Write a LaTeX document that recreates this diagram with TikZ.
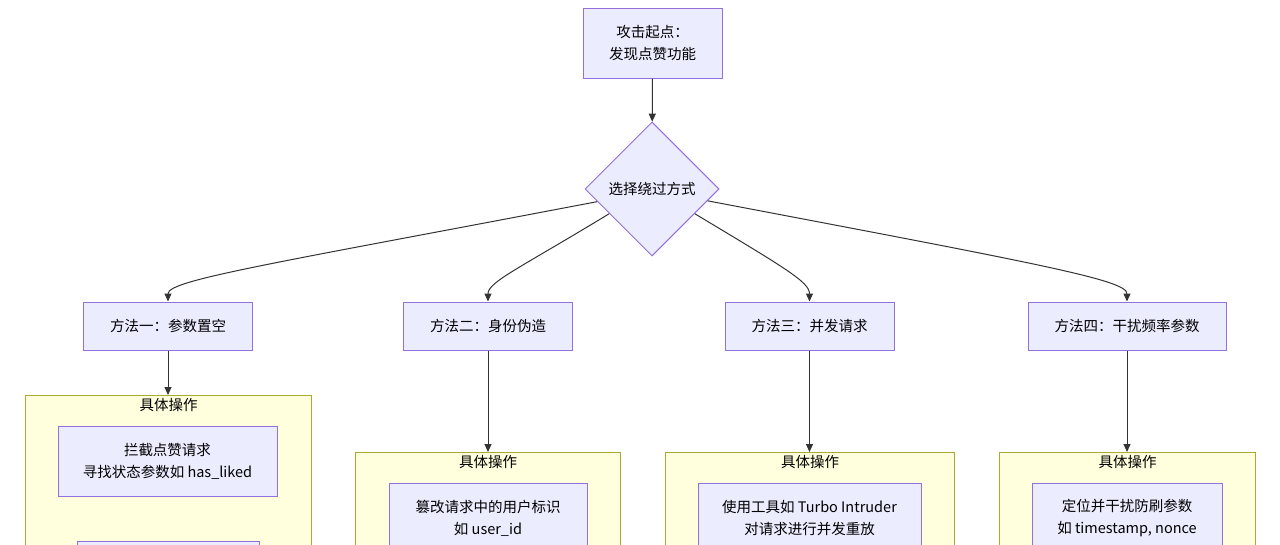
\documentclass[tikz,border=0pt]{standalone}
\usepackage{fontspec}
\setmainfont{Noto Sans CJK SC}
\usetikzlibrary{shapes.geometric,arrows.meta}
\definecolor{nodefill}{HTML}{ECECFF}
\definecolor{nodeline}{HTML}{9370DB}
\definecolor{groupfill}{HTML}{FFFFDE}
\definecolor{groupline}{HTML}{AAAA33}
\definecolor{edgecol}{HTML}{333333}

\begin{document}
\begin{tikzpicture}[x=1pt,y=-1pt,
    font=\fontsize{14.5}{22}\selectfont,
    box/.style={draw=nodeline, fill=nodefill, line width=1pt, align=center, inner sep=0pt},
    choice/.style={box, diamond, minimum width=134pt, minimum height=134pt},
    group/.style={draw=groupline, fill=groupfill, line width=1pt, inner sep=0pt, anchor=north west},
    grouptitle/.style={anchor=north, inner sep=3pt},
    edge/.style={draw=edgecol, line width=1pt, -{Triangle[length=8pt,width=7pt]}}]
    \path[use as bounding box, clip] (0,0) rectangle (1280,544);

    % start and choice
    \node[box, minimum width=139pt, minimum height=70pt] (start) at (652.5,43) {攻击起点：\\发现点赞功能};
    \node[choice] (choose) at (652,189) {选择绕过方式};

    % methods
    \node[box, minimum width=169pt, minimum height=48pt] (m1) at (168,326) {方法一：参数置空};
    \node[box, minimum width=169pt, minimum height=48pt] (m2) at (488,326) {方法二：身份伪造};
    \node[box, minimum width=169pt, minimum height=48pt] (m3) at (809.5,326) {方法三：并发请求};
    \node[box, minimum width=198pt, minimum height=48pt] (m4) at (1127,326) {方法四：干扰频率参数};

    % operation groups
    \node[group, minimum width=286pt, minimum height=220pt] (g1) at (25,395) {};
    \node[group, minimum width=265pt, minimum height=160pt] (g2) at (355,452) {};
    \node[group, minimum width=289pt, minimum height=160pt] (g3) at (665,452) {};
    \node[group, minimum width=256pt, minimum height=160pt] (g4) at (999,452) {};
    \node[grouptitle] (t1) at (g1.north) {具体操作};
    \node[grouptitle] (t2) at (g2.north) {具体操作};
    \node[grouptitle] (t3) at (g3.north) {具体操作};
    \node[grouptitle] (t4) at (g4.north) {具体操作};

    % operations
    \node[box, minimum width=219pt, minimum height=70pt] (a1) at (167.5,461) {拦截点赞请求\\寻找状态参数如 has\_liked};
    \node[box, minimum width=182pt, minimum height=70pt] (b1) at (168,576) {};
    \node[box, minimum width=198pt, minimum height=70pt] (a2) at (488,518) {篡改请求中的用户标识\\如 user\_id};
    \node[box, minimum width=223pt, minimum height=70pt] (a3) at (809.5,518) {使用工具如 Turbo Intruder\\对请求进行并发重放};
    \node[box, minimum width=190pt, minimum height=70pt] (a4) at (1127,518) {定位并干扰防刷参数\\如 timestamp, nonce};

    % edges
    \draw[edge] (start) -- (choose);
    \draw[edge] (choose.193) .. controls (270,264) and (168,280) .. (m1.north);
    \draw[edge] (choose.210) .. controls (520,268) and (488,282) .. (m2.north);
    \draw[edge] (choose.330) .. controls (785,268) and (809.5,282) .. (m3.north);
    \draw[edge] (choose.348) .. controls (1040,264) and (1127,280) .. (m4.north);
    \draw[edge] (m1.south) -- (m1.south |- g1.north);
    \draw[edge] (m2.south) -- (m2.south |- g2.north);
    \draw[edge] (m3.south) -- (m3.south |- g3.north);
    \draw[edge] (m4.south) -- (m4.south |- g4.north);
\end{tikzpicture}
\end{document}
